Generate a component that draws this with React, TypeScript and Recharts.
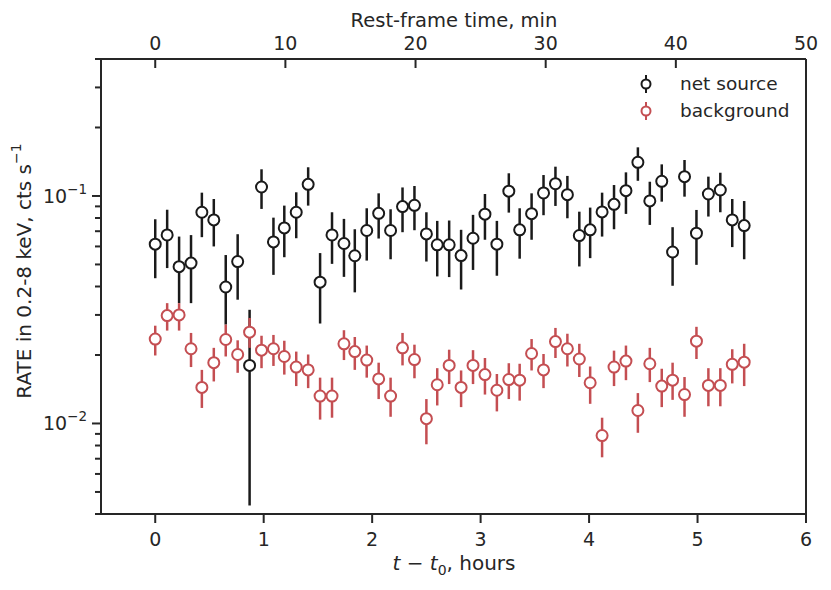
import React from "react";
import {
  ScatterChart,
  Scatter,
  XAxis,
  YAxis,
  ErrorBar,
  ReferenceLine,
} from "recharts";

// light curve, 0.2-8 keV, ~6.5 min bins (observed frame)

const TIME_H = [
  0.0, 0.11, 0.22, 0.33, 0.43, 0.54, 0.65, 0.76, 0.87, 0.98,
  1.09, 1.19, 1.3, 1.41, 1.52, 1.63, 1.74, 1.84, 1.95, 2.06,
  2.17, 2.28, 2.39, 2.5, 2.6, 2.71, 2.82, 2.93, 3.04, 3.15,
  3.26, 3.36, 3.47, 3.58, 3.69, 3.8, 3.91, 4.01, 4.12, 4.23,
  4.34, 4.45, 4.56, 4.67, 4.77, 4.88, 4.99, 5.1, 5.21, 5.32,
  5.43,
];

const SRC_RATE = [
  0.0614, 0.0674, 0.0489, 0.0507, 0.0848, 0.0785, 0.0398, 0.0515, 0.018, 0.1095,
  0.0628, 0.0724, 0.0848, 0.1125, 0.0418, 0.0674, 0.0618, 0.0546, 0.0705, 0.0839,
  0.0705, 0.0898, 0.091, 0.0681, 0.061, 0.061, 0.0547, 0.0652, 0.0832, 0.0614,
  0.105, 0.071, 0.0836, 0.1031, 0.1132, 0.1013, 0.067, 0.071, 0.0851, 0.0919,
  0.1055, 0.1406, 0.0951, 0.116, 0.0567, 0.1216, 0.0686, 0.102, 0.1062, 0.0785,
  0.0741,
];
const SRC_LO = [
  0.0435, 0.0482, 0.0338, 0.0338, 0.0659, 0.06, 0.0272, 0.035, 0.00436, 0.0877,
  0.045, 0.0538, 0.0652, 0.0907, 0.0275, 0.0503, 0.0441, 0.0377, 0.052, 0.065,
  0.0527, 0.0693, 0.0707, 0.0515, 0.0443, 0.044, 0.0388, 0.0473, 0.0642, 0.0446,
  0.0845, 0.053, 0.0642, 0.0823, 0.0904, 0.0798, 0.049, 0.0533, 0.0663, 0.0714,
  0.0834, 0.1166, 0.0746, 0.0944, 0.0403, 0.0993, 0.0498, 0.0812, 0.0848, 0.0596,
  0.0527,
];
const SRC_HI = [
  0.079, 0.087, 0.0663, 0.0673, 0.1034, 0.097, 0.055, 0.0679, 0.0316, 0.131,
  0.0803, 0.0907, 0.1038, 0.1337, 0.0561, 0.0848, 0.0793, 0.0714, 0.0883, 0.1027,
  0.0874, 0.109, 0.1106, 0.0848, 0.0777, 0.078, 0.071, 0.0826, 0.102, 0.0777,
  0.1258, 0.0883, 0.1027, 0.1236, 0.1345, 0.1225, 0.0853, 0.0889, 0.1034, 0.1117,
  0.127, 0.1636, 0.1155, 0.1377, 0.0729, 0.1439, 0.0868, 0.1216, 0.1265, 0.097,
  0.095,
];

const BKG_RATE = [
  0.0235, 0.0298, 0.03, 0.0213, 0.0144, 0.0185, 0.0234, 0.0201, 0.0252, 0.021,
  0.0213, 0.0197, 0.0177, 0.0172, 0.0132, 0.0132, 0.0224, 0.0207, 0.019, 0.0157,
  0.0132, 0.0215, 0.0191, 0.0105, 0.0148, 0.018, 0.0144, 0.018, 0.0164, 0.014,
  0.0156, 0.0155, 0.0203, 0.0172, 0.0229, 0.0213, 0.0192, 0.0151, 0.00885, 0.0177,
  0.0188, 0.0114, 0.0183, 0.0146, 0.0155, 0.0134, 0.023, 0.0147, 0.0147, 0.0182,
  0.0186,
];
const BKG_LO = [
  0.0199, 0.0256, 0.0256, 0.0177, 0.0117, 0.0153, 0.0197, 0.0167, 0.0215, 0.0175,
  0.0179, 0.0164, 0.0146, 0.0143, 0.0104, 0.0106, 0.019, 0.0172, 0.0159, 0.0128,
  0.0107, 0.018, 0.0158, 0.0081, 0.012, 0.0149, 0.0118, 0.0149, 0.0134, 0.0113,
  0.0128, 0.0126, 0.0171, 0.0143, 0.0194, 0.0178, 0.016, 0.0122, 0.0071, 0.0146,
  0.0155, 0.0091, 0.0152, 0.0118, 0.0127, 0.0107, 0.0192, 0.0119, 0.0119, 0.015,
  0.0146,
];
const BKG_HI = [
  0.0269, 0.0338, 0.0338, 0.025, 0.0172, 0.0215, 0.0272, 0.0232, 0.0291, 0.0243,
  0.0245, 0.0231, 0.0207, 0.0201, 0.0159, 0.0159, 0.0257, 0.024, 0.022, 0.0185,
  0.0159, 0.025, 0.0222, 0.0128, 0.0175, 0.0211, 0.0171, 0.021, 0.0194, 0.0165,
  0.0184, 0.0183, 0.0235, 0.0202, 0.0263, 0.0248, 0.0224, 0.0178, 0.0106, 0.0209,
  0.022, 0.0136, 0.0215, 0.0174, 0.0185, 0.016, 0.0266, 0.0175, 0.0175, 0.0212,
  0.0224,
];

const HOUR_TICKS = [0, 1, 2, 3, 4, 5, 6];
const MIN_TICKS = [0, 10, 20, 30, 40, 50];
const RATE_TICKS = [
  0.004, 0.005, 0.006, 0.007, 0.008, 0.009,
  0.01, 0.02, 0.03, 0.04, 0.05, 0.06, 0.07, 0.08, 0.09,
  0.1, 0.2, 0.3, 0.4,
];
const DECADE_LABELS: Record<string, string> = { "0.01": "−2", "0.1": "−1" };

const INK = "#262626";
const SRC_COLOR = "#1a1a1a";
const BKG_COLOR = "#c44e52";
const FONT = "DejaVu Sans";

type Row = { t: number; rate: number; err: [number, number] };

const toRows = (rate: number[], lo: number[], hi: number[]): Row[] =>
  TIME_H.map((t, i) => ({ t, rate: rate[i], err: [rate[i] - lo[i], hi[i] - rate[i]] }));

const srcRows = toRows(SRC_RATE, SRC_LO, SRC_HI);
const bkgRows = toRows(BKG_RATE, BKG_LO, BKG_HI);
// empty carrier so the rest-frame (top) axis gets registered with a series
const topRows = MIN_TICKS.map((m) => ({ m, rate: null }));

const hollow = (color: string) => (p: any) =>
  <circle cx={p.cx} cy={p.cy} r={5.5} fill="#fff" stroke={color} strokeWidth={2} />;

function LeftTick(props: any) {
  const { x, y, payload } = props;
  const exp = DECADE_LABELS[String(payload.value)];
  const len = exp ? 9 : 6;
  return (
    <g>
      <line x1={x - len} y1={y} x2={x} y2={y} stroke={INK} strokeWidth={2} />
      {exp && (
        <text x={x - 14} y={y + 7} textAnchor="end" fill={INK} fontFamily={FONT} fontSize={19}>
          10<tspan dy={-9} fontSize={13.5}>{exp}</tspan>
        </text>
      )}
    </g>
  );
}

function BottomTick(props: any) {
  const { x, y, payload } = props;
  return (
    <g>
      <line x1={x} y1={y} x2={x} y2={y + 9} stroke={INK} strokeWidth={2} />
      <text x={x} y={y + 32} textAnchor="middle" fill={INK} fontFamily={FONT} fontSize={19}>
        {payload.value}
      </text>
    </g>
  );
}

function TopTick(props: any) {
  const { x, y, payload } = props;
  // ticks on the twin axis point into the frame
  return (
    <g>
      <line x1={x} y1={y} x2={x} y2={y + 9} stroke={INK} strokeWidth={2} />
      <text x={x} y={y - 9} textAnchor="middle" fill={INK} fontFamily={FONT} fontSize={19}>
        {payload.value}
      </text>
    </g>
  );
}

function Legend() {
  const items = [
    { label: "net source", color: SRC_COLOR },
    { label: "background", color: BKG_COLOR },
  ];
  return (
    <div style={{ position: "absolute", left: 628, top: 62 }}>
      {items.map((it) => (
        <div key={it.label} style={{ display: "flex", alignItems: "center", height: 27 }}>
          <svg width={20} height={24}>
            <line x1={10} y1={3} x2={10} y2={21} stroke={it.color} strokeWidth={2} />
            <circle cx={10} cy={12} r={4.5} fill="#fff" stroke={it.color} strokeWidth={2} />
          </svg>
          <span
            style={{ marginLeft: 24, fontFamily: FONT, fontSize: 18.5, color: INK, lineHeight: "24px" }}
          >
            {it.label}
          </span>
        </div>
      ))}
    </div>
  );
}

export default function App() {
  return (
    <div style={{ position: "relative", width: 815, height: 575 }}>
      <ScatterChart width={815} height={575} margin={{ top: 21, right: 17, bottom: 39, left: 33 }}>
        <XAxis
          dataKey="t"
          type="number"
          domain={[-0.5, 6]}
          ticks={HOUR_TICKS}
          interval={0}
          height={30}
          tickSize={0}
          tickMargin={0}
          tick={<BottomTick />}
          axisLine={{ stroke: INK, strokeWidth: 2 }}
          label={{
            content: () => (
              <text x={446} y={562} textAnchor="middle" fill={INK} fontFamily={FONT} fontSize={20}>
                <tspan fontStyle="italic">t</tspan>
                {" − "}
                <tspan fontStyle="italic">t</tspan>
                <tspan dy={5} fontSize={14}>0</tspan>
                <tspan dy={-5}>, hours</tspan>
              </text>
            ),
          }}
        />
        <XAxis
          xAxisId="top"
          dataKey="m"
          orientation="top"
          type="number"
          domain={[-25 / 6, 50]}
          ticks={MIN_TICKS}
          interval={0}
          height={30}
          tickSize={0}
          tickMargin={0}
          allowDataOverflow
          tick={<TopTick />}
          axisLine={{ stroke: INK, strokeWidth: 2 }}
          label={{
            content: () => (
              <text x={446} y={19} textAnchor="middle" fill={INK} fontFamily={FONT} fontSize={19.5}>
                Rest-frame time, min
              </text>
            ),
          }}
        />
        <YAxis
          dataKey="rate"
          type="number"
          scale="log"
          domain={[0.004, 0.4]}
          allowDataOverflow
          ticks={RATE_TICKS}
          interval={0}
          width={60}
          tickSize={0}
          tickMargin={0}
          tick={<LeftTick />}
          axisLine={{ stroke: INK, strokeWidth: 2 }}
          label={{
            content: () => (
              <text
                x={16}
                y={263}
                transform="rotate(-90 16 263)"
                textAnchor="middle"
                dominantBaseline="central"
                fill={INK}
                fontFamily={FONT}
                fontSize={20}
              >
                RATE in 0.2-8 keV, cts s<tspan dy={-8} fontSize={14}>−1</tspan>
              </text>
            ),
          }}
        />
        <ReferenceLine x={6} stroke={INK} strokeWidth={2} ifOverflow="visible" />
        <Scatter
          xAxisId="top"
          data={topRows}
          shape={() => <g />}
          legendType="none"
          isAnimationActive={false}
        />
        <Scatter
          name="net source"
          data={srcRows}
          shape={hollow(SRC_COLOR)}
          isAnimationActive={false}
        >
          <ErrorBar dataKey="err" direction="y" width={0} stroke={SRC_COLOR} strokeWidth={2.5} isAnimationActive={false} />
        </Scatter>
        <Scatter
          name="background"
          data={bkgRows}
          shape={hollow(BKG_COLOR)}
          isAnimationActive={false}
        >
          <ErrorBar dataKey="err" direction="y" width={0} stroke={BKG_COLOR} strokeWidth={2.5} isAnimationActive={false} />
        </Scatter>
      </ScatterChart>
      <Legend />
    </div>
  );
}
